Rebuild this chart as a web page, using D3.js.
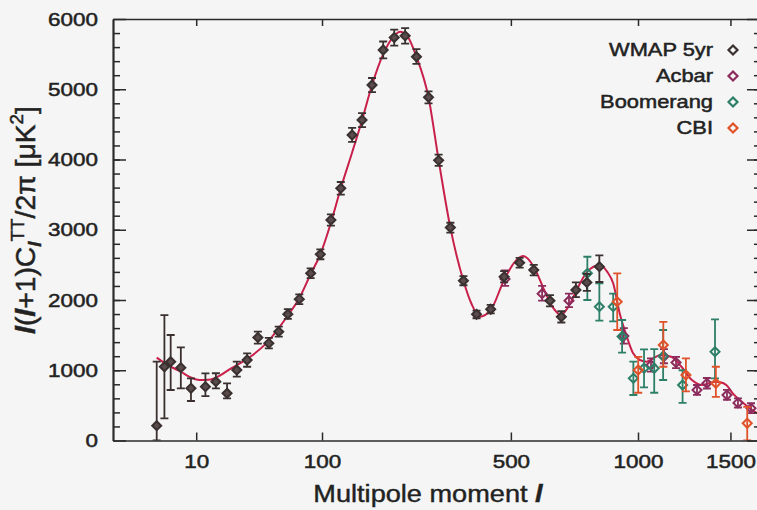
<!DOCTYPE html>
<html>
<head>
<meta charset="utf-8">
<script src="https://cdn.jsdelivr.net/npm/d3@7"></script>
<style>
  html, body { margin: 0; padding: 0; background: #f4f5f4; }
  svg { display: block; font-family: "Liberation Sans", Arial, Helvetica, sans-serif; }
</style>
</head>
<body>
<div id="chart"></div>
<script>
// tick labels
const xTicks = [10, 100, 500, 1000, 1500];
const yTicks = [0, 1000, 2000, 3000, 4000, 5000, 6000];

// WMAP 5yr
const wmapL = [2, 3, 4, 6, 8.5, 13, 17, 22, 27, 33, 40, 48, 56, 64, 75, 87, 98, 111, 124, 140, 155, 171, 190, 210, 231, 254, 280, 303, 331, 364, 399, 439, 479, 528, 575, 632, 674, 730, 774, 826];
const wmapD = [211, 1050, 1122, 1037, 743, 766, 837, 672, 1004, 1146, 1466, 1383, 1549, 1798, 2012, 2380, 2650, 3139, 3590, 4349, 4562, 5060, 5559, 5736, 5760, 5463, 4885, 3988, 3032, 2275, 1796, 1868, 2330, 2531, 2427, 1990, 1760, 2142, 2250, 2474];
const wmapLo = [0, 316, 719, 743, 562, 633, 743, 600, 908, 1050, 1380, 1310, 1480, 1730, 1940, 2310, 2580, 3060, 3500, 4250, 4460, 4960, 5440, 5620, 5650, 5360, 4800, 3910, 2960, 2210, 1740, 1810, 2250, 2460, 2350, 1910, 1680, 2040, 2130, 2256];
const wmapHi = [1122, 1786, 1502, 1327, 885, 956, 957, 814, 1122, 1241, 1550, 1460, 1620, 1870, 2080, 2450, 2720, 3220, 3680, 4450, 4660, 5160, 5680, 5850, 5870, 5570, 4970, 4070, 3100, 2340, 1850, 1930, 2410, 2600, 2500, 2070, 1840, 2250, 2370, 2634];

// Acbar
const acbarL = [482, 604, 703, 934, 1063, 1128, 1191, 1305, 1361, 1479, 1546, 1628];
const acbarD = [2300, 2090, 1990, 1487, 1075, 1195, 1110, 719, 814, 648, 535, 458];
const acbarLo = [2200, 1990, 1900, 1380, 980, 1100, 1030, 650, 740, 580, 470, 390];
const acbarHi = [2420, 2200, 2090, 1600, 1170, 1300, 1190, 790, 890, 720, 600, 530];

// Boomerang
const boomL = [776, 826, 886, 926, 978, 1029, 1079, 1124, 1226, 1408];
const boomD = [2380, 1905, 1905, 1480, 885, 1028, 1028, 1200, 790, 1264];
const boomLo = [2000, 1705, 1695, 1250, 648, 757, 680, 861, 535, 885];
const boomHi = [2616, 2238, 2090, 1715, 1122, 1298, 1300, 1573, 1000, 1725];

// CBI
const cbiL = [904, 1001, 1125, 1244, 1413, 1604];
const cbiD = [1976, 1004, 1359, 932, 814, 245];
const cbiLo = [1573, 680, 1050, 700, 620, 0];
const cbiHi = [2380, 1190, 1690, 1170, 1050, 480];

// best-fit model curve
const modelL = [2, 4, 6, 8, 11, 15, 19, 24, 29, 35, 46, 64, 75, 87, 98, 111, 124, 140, 155, 171, 190, 210, 221, 235, 254, 280, 303, 331, 364, 385, 408, 439, 479, 510, 540, 575, 614, 645, 672, 700, 733, 775, 828, 860, 886, 915, 945, 977, 1009, 1042, 1080, 1112, 1166, 1220, 1277, 1334, 1380, 1408, 1440, 1475, 1514, 1570, 1620, 1673];
const modelD = [1180, 1050, 980, 910, 862, 870, 930, 1028, 1100, 1193, 1383, 1780, 2024, 2370, 2650, 3100, 3590, 4100, 4560, 5060, 5500, 5760, 5820, 5760, 5463, 4885, 3990, 3030, 2275, 1950, 1762, 1858, 2285, 2530, 2626, 2474, 2118, 1880, 1787, 1900, 2142, 2400, 2498, 2400, 2238, 1811, 1502, 1241, 1146, 1122, 1180, 1217, 1193, 1050, 861, 790, 820, 837, 830, 790, 672, 552, 458, 380];

const seriesNames = ['WMAP 5yr', 'Acbar', 'Boomerang', 'CBI'];
const seriesColors = ['#3a3030', '#8c2c5c', '#2e7f68', '#e0522a'];

const W = 757, H = 510;
const svg = d3.select('#chart').append('svg')
  .attr('width', W)
  .attr('height', H);

svg.append('rect').attr('width', W).attr('height', H).attr('fill', '#f4f5f4');

const x = d3.scalePow().exponent(0.4)
  .domain([0, 1673])
  .range([113, 758]);
const y = d3.scaleLinear()
  .domain([0, 6000])
  .range([440.5, 19]);

svg.append('clipPath').attr('id', 'plot')
  .append('rect')
  .attr('x', 113).attr('y', 19)
  .attr('width', 645).attr('height', 421.5);

const plot = svg.append('g').attr('clip-path', 'url(#plot)');

// model curve
const model = modelL.map((l, i) => ({ l: l, v: modelD[i] }));
plot.append('path')
  .datum(model)
  .attr('fill', 'none')
  .attr('stroke', '#c8204a')
  .attr('stroke-width', 2)
  .attr('d', d3.line()
    .x(d => x(d.l))
    .y(d => y(d.v))
    .curve(d3.curveMonotoneX));

const series = [
  { L: acbarL, D: acbarD, lo: acbarLo, hi: acbarHi },
  { L: boomL, D: boomD, lo: boomLo, hi: boomHi },
  { L: cbiL, D: cbiD, lo: cbiLo, hi: cbiHi },
  { L: wmapL, D: wmapD, lo: wmapLo, hi: wmapHi }
];
const colorIdx = [1, 2, 3, 0];

const diamond = 'M0,-4.5L4.5,0L0,4.5L-4.5,0Z';

series.forEach((s, k) => {
  const c = seriesColors[colorIdx[k]];
  const isWmap = colorIdx[k] === 0;
  const pts = s.L.map((l, i) => ({ l: l, v: s.D[i], lo: s.lo[i], hi: s.hi[i] }));
  const g = plot.append('g');
  const pt = g.selectAll('g').data(pts).join('g')
    .attr('transform', d => `translate(${x(d.l)},0)`);
  pt.append('line')
    .attr('y1', d => y(d.lo)).attr('y2', d => y(d.hi))
    .attr('stroke', c).attr('stroke-width', 1.8);
  pt.append('line')
    .attr('x1', -4).attr('x2', 4)
    .attr('y1', d => y(d.hi)).attr('y2', d => y(d.hi))
    .attr('stroke', c).attr('stroke-width', 1.8);
  pt.append('line')
    .attr('x1', -4).attr('x2', 4)
    .attr('y1', d => y(d.lo)).attr('y2', d => y(d.lo))
    .attr('stroke', c).attr('stroke-width', 1.8);
  pt.append('path')
    .attr('d', diamond)
    .attr('transform', d => `translate(0,${y(d.v)})`)
    .attr('fill', isWmap ? '#5a4c4c' : 'none')
    .attr('stroke', c)
    .attr('stroke-width', 2);
});

// axes
const axisColor = '#2a2a2a';
svg.append('g').attr('transform', 'translate(113,0)')
  .call(d3.axisLeft(y).tickValues(yTicks).tickSize(-13).tickSizeOuter(0).tickPadding(15).tickFormat(d3.format('d')));
svg.append('g').attr('transform', 'translate(113,0)')
  .call(d3.axisLeft(y).tickValues(d3.range(200, 6000, 200)).tickSize(-7).tickSizeOuter(0).tickFormat(''));
svg.append('g').attr('transform', 'translate(758,0)')
  .call(d3.axisRight(y).tickValues(yTicks).tickSize(-11).tickSizeOuter(0).tickFormat(''));
svg.append('g').attr('transform', 'translate(758,0)')
  .call(d3.axisRight(y).tickValues(d3.range(200, 6000, 200)).tickSize(-4).tickSizeOuter(0).tickFormat(''));
svg.append('g').attr('transform', 'translate(0,440.5)')
  .call(d3.axisBottom(x).tickValues(xTicks).tickSize(-8).tickSizeOuter(0).tickPadding(14).tickFormat(d3.format('d')));
svg.append('g').attr('transform', 'translate(0,19)')
  .call(d3.axisTop(x).tickValues(xTicks).tickSize(-7).tickSizeOuter(0).tickFormat(''));

svg.selectAll('.domain').attr('stroke', axisColor).attr('stroke-width', 1.7);
svg.selectAll('.tick line').attr('stroke', axisColor).attr('stroke-width', 1.5);
svg.selectAll('.tick text')
  .attr('fill', '#222')
  .attr('stroke', '#222')
  .attr('stroke-width', 0.5)
  .attr('font-size', 19)
  .attr('font-family', '"Liberation Sans", Arial, sans-serif');

// legend
const legend = svg.append('g');
seriesNames.forEach((name, i) => {
  const ly = 50 + i * 26;
  legend.append('text')
    .attr('class', 'stretch')
    .attr('x', 713).attr('y', ly)
    .attr('dy', '0.35em')
    .attr('text-anchor', 'end')
    .attr('font-size', 18.5)
    .attr('fill', '#222')
    .attr('stroke', '#222')
    .attr('stroke-width', 0.5)
    .text(name);
  legend.append('path')
    .attr('d', diamond)
    .attr('transform', `translate(733,${ly})`)
    .attr('fill', 'none')
    .attr('stroke', seriesColors[i])
    .attr('stroke-width', 2.2);
});

// x label
const xl = svg.append('text')
  .attr('class', 'stretch')
  .attr('x', 428).attr('y', 502)
  .attr('text-anchor', 'middle')
  .attr('font-size', 23)
  .attr('fill', '#222')
  .attr('stroke', '#222')
  .attr('stroke-width', 0.4);
xl.append('tspan').text('Multipole moment ');
xl.append('tspan').attr('font-style', 'italic').attr('font-weight', 'bold').text('l');

// y label
const yl = svg.append('text')
  .attr('transform', 'translate(35,220) scale(1.18,1) rotate(-90)')
  .attr('text-anchor', 'middle')
  .attr('font-size', 24)
  .attr('textLength', 228)
  .attr('lengthAdjust', 'spacingAndGlyphs')
  .attr('fill', '#222')
  .attr('stroke', '#222')
  .attr('stroke-width', 0.4);
yl.append('tspan').attr('font-style', 'italic').attr('font-weight', 'bold').text('l');
yl.append('tspan').text('(');
yl.append('tspan').attr('font-style', 'italic').attr('font-weight', 'bold').text('l');
yl.append('tspan').text('+1)C');
yl.append('tspan').attr('font-style', 'italic').attr('font-weight', 'bold').attr('font-size', 16).attr('dy', 5).text('l');
yl.append('tspan').attr('font-size', 16).attr('dy', -14).text('TT');
yl.append('tspan').attr('dy', 9).text('/2π [μK');
yl.append('tspan').attr('font-size', 16).attr('dy', -10).text('2');
yl.append('tspan').attr('dy', 10).text(']');

// widen text to match the horizontally stretched original
svg.selectAll('.tick text, text.stretch').each(function () {
  const len = this.getComputedTextLength();
  if (len > 0) {
    d3.select(this)
      .attr('textLength', len * 1.18)
      .attr('lengthAdjust', 'spacingAndGlyphs');
  }
});
</script>
</body>
</html>
